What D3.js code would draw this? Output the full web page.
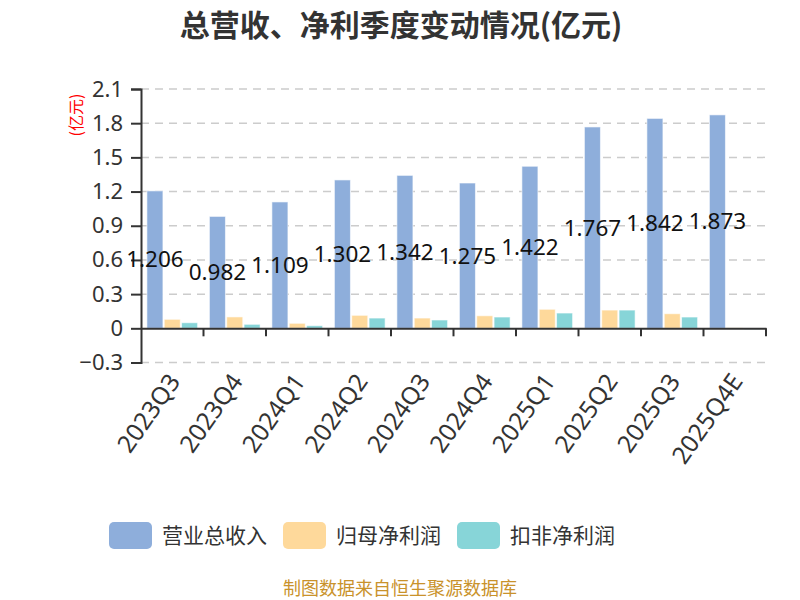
<!DOCTYPE html>
<html>
<head>
<meta charset="utf-8">
<script src="https://cdn.jsdelivr.net/npm/d3@7"></script>
<style>
  body { margin: 0; background: #fff; }
  svg { font-family: "Noto Sans CJK SC", "Noto Sans", sans-serif; }
</style>
</head>
<body>
<div id="chart"></div>
<script>
// 数据（亿元）
const quarters = ['2023Q3', '2023Q4', '2024Q1', '2024Q2', '2024Q3', '2024Q4', '2025Q1', '2025Q2', '2025Q3', '2025Q4E'];
const revenue = [1.206, 0.982, 1.109, 1.302, 1.342, 1.275, 1.422, 1.767, 1.842, 1.873];
const netProfit = [0.079, 0.10, 0.044, 0.114, 0.09, 0.11, 0.167, 0.16, 0.128, 0.004];
const deductedProfit = [0.049, 0.035, 0.023, 0.09, 0.073, 0.099, 0.134, 0.16, 0.099, -0.004];
const seriesNames = ['营业总收入', '归母净利润', '扣非净利润'];
const colors = ['#8eaedb', '#fed99b', '#87d5d8'];
const yTicks = [-0.3, 0, 0.3, 0.6, 0.9, 1.2, 1.5, 1.8, 2.1];

const W = 800, H = 600;
const svg = d3.select('#chart').append('svg').attr('width', W).attr('height', H);

// 标题
svg.append('text')
    .attr('x', 401).attr('y', 36)
    .attr('text-anchor', 'middle')
    .attr('font-size', 30).attr('font-weight', 'bold')
    .attr('fill', '#333')
    .text('总营收、净利季度变动情况(亿元)');

const left = 141, right = 766;
const y = d3.scaleLinear().domain([-0.3, 2.1]).range([362.5, 89]);
const x0 = d3.scaleBand().domain(quarters).range([left, right]).padding(0);
const x1 = d3.scaleBand().domain(seriesNames).range([0, x0.bandwidth()])
    .paddingInner(0.075).paddingOuter(0.34);

// 网格线
svg.append('g').selectAll('line')
    .data(yTicks.filter(d => d !== 0))
    .join('line')
    .attr('x1', left).attr('x2', right + 2)
    .attr('y1', d => y(d)).attr('y2', d => y(d))
    .attr('stroke', '#ccc').attr('stroke-width', 1.5)
    .attr('stroke-dasharray', '8,6');

// y 轴
const yAxis = svg.append('g')
    .attr('transform', `translate(${left},0)`)
    .call(d3.axisLeft(y).tickValues(yTicks).tickSize(10).tickPadding(8)
        .tickFormat(d => d === 0 ? '0' : d3.format('.1f')(d)));
yAxis.select('.domain').attr('stroke', '#333').attr('stroke-width', 2);
yAxis.selectAll('.tick line').attr('stroke', '#333').attr('stroke-width', 2);
yAxis.selectAll('.tick text').attr('font-size', 22).attr('fill', '#333')
    .attr('font-family', 'Noto Sans, sans-serif');

svg.append('text')
    .attr('transform', 'translate(82,115) rotate(-90)')
    .attr('text-anchor', 'middle')
    .attr('font-size', 16).attr('fill', 'red')
    .text('(亿元)');

// 柱子
const rows = quarters.map((q, i) => ({q, vals: [revenue[i], netProfit[i], deductedProfit[i]]}));
const groups = svg.append('g').selectAll('g')
    .data(rows)
    .join('g')
    .attr('transform', d => `translate(${x0(d.q)},0)`);
groups.selectAll('rect')
    .data(d => d.vals.map((v, j) => ({name: seriesNames[j], v, j})))
    .join('rect')
    .attr('x', d => x1(d.name))
    .attr('width', x1.bandwidth())
    .attr('y', d => Math.min(y(d.v), y(0)))
    .attr('height', d => Math.max(1, Math.abs(y(d.v) - y(0))))
    .attr('fill', d => colors[d.j])
    .attr('stroke', '#fff').attr('stroke-opacity', 0.6).attr('stroke-width', 1);

// x 轴
const xAxis = svg.append('g')
    .attr('transform', `translate(0,${y(0)})`)
    .call(d3.axisBottom(x0).tickSize(0).tickFormat(''));
xAxis.select('.domain').attr('stroke', '#333').attr('stroke-width', 2);
svg.append('g').selectAll('line')
    .data(quarters)
    .join('line')
    .attr('x1', d => x0(d) + x0.bandwidth()).attr('x2', d => x0(d) + x0.bandwidth())
    .attr('y1', y(0)).attr('y2', y(0) + 8)
    .attr('stroke', '#333').attr('stroke-width', 2);

svg.append('g').selectAll('text')
    .data(quarters)
    .join('text')
    .attr('transform', d => `translate(${x0(d) + x0.bandwidth() / 2 + 2},${y(-0.3) + 14}) rotate(-55)`)
    .attr('text-anchor', 'end')
    .attr('dy', '0.35em')
    .attr('font-size', 24.5).attr('fill', '#333')
    .attr('font-family', 'Noto Sans, sans-serif')
    .text(d => d);

// 数值标签
svg.append('g').selectAll('text')
    .data(rows)
    .join('text')
    .attr('x', d => x0(d.q) + x1(seriesNames[0]) + x1.bandwidth() / 2)
    .attr('y', d => (y(d.vals[0]) + y(0)) / 2)
    .attr('dy', '0.35em')
    .attr('text-anchor', 'middle')
    .attr('font-size', 22.5).attr('fill', '#111')
    .attr('font-family', 'Noto Sans, sans-serif')
    .text(d => d3.format('.3f')(d.vals[0]));

// 图例
const legendX = [109, 283, 457];
const legend = svg.append('g').selectAll('g')
    .data(seriesNames)
    .join('g')
    .attr('transform', (d, i) => `translate(${legendX[i]},522)`);
legend.append('rect')
    .attr('width', 43).attr('height', 27).attr('rx', 5)
    .attr('fill', (d, i) => colors[i]);
legend.append('text')
    .attr('x', 53).attr('y', 14).attr('dy', '0.35em')
    .attr('font-size', 21).attr('fill', '#333')
    .text(d => d);

// 来源
svg.append('text')
    .attr('x', 400).attr('y', 595)
    .attr('text-anchor', 'middle')
    .attr('font-size', 18).attr('fill', '#c9922b')
    .text('制图数据来自恒生聚源数据库');
</script>
</body>
</html>
